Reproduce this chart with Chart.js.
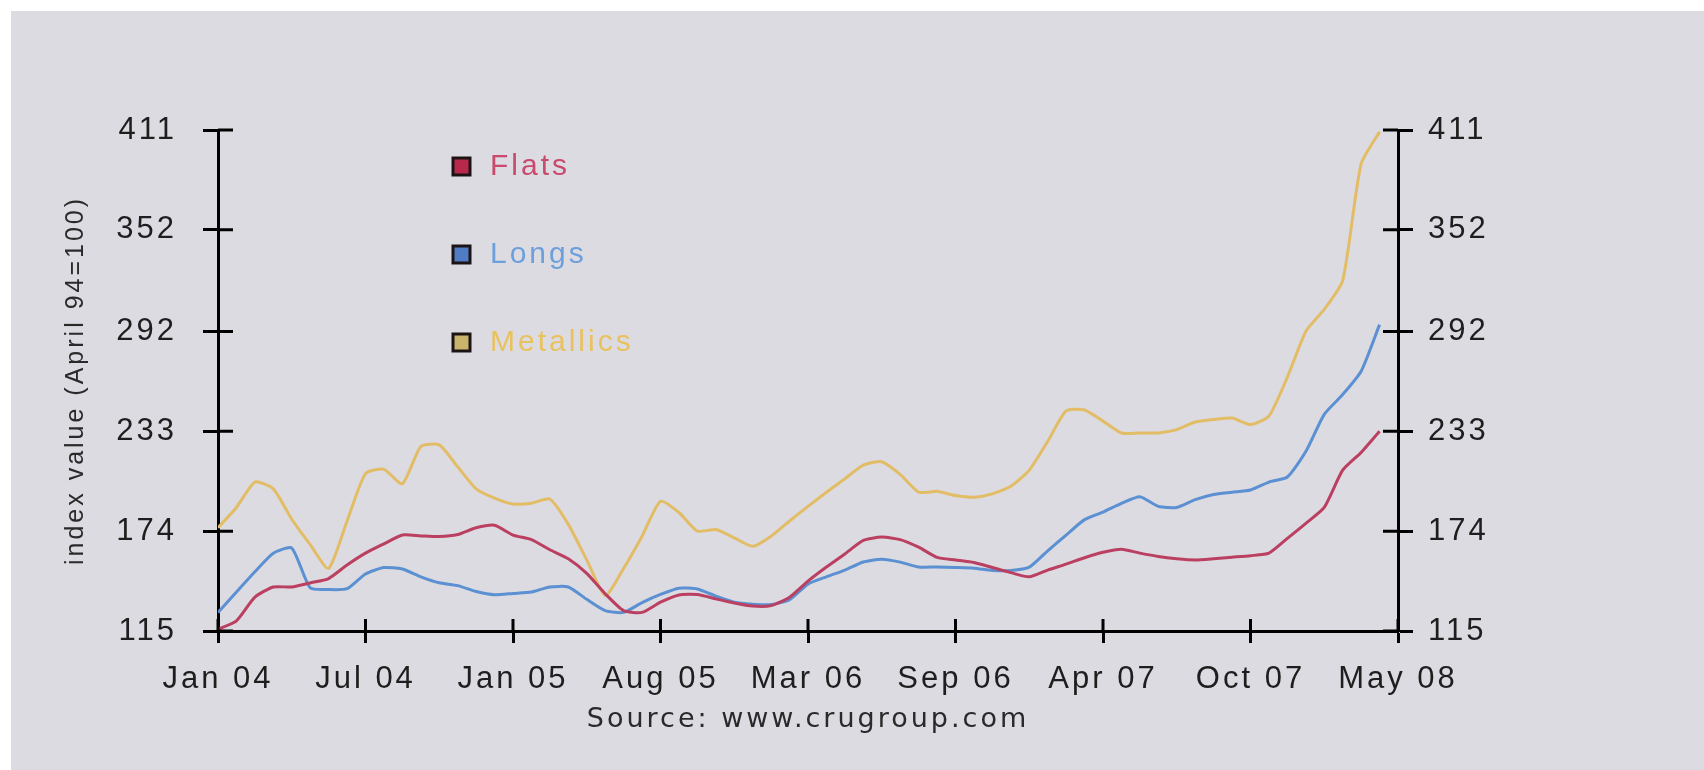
<!DOCTYPE html>
<html>
<head>
<meta charset="utf-8">
<script src="https://cdn.jsdelivr.net/npm/chart.js@4/dist/chart.umd.min.js"></script>
<style>
  html, body { margin: 0; padding: 0; background: #ffffff; }
  .frame { position: absolute; left: 11px; top: 11px; width: 1693px; height: 759px; background: #dcdbe1; }
</style>
</head>
<body>
<div class="frame"><canvas id="chart" width="1693" height="759"></canvas></div>
<script>
// tick labels (evenly spaced along the x axis, 8 readings between labels)
const tickLabels = ['Jan 04', 'Jul 04', 'Jan 05', 'Aug 05', 'Mar 06', 'Sep 06', 'Apr 07', 'Oct 07', 'May 08'];
const yTicks = [115, 174, 233, 292, 352, 411];
const stepsPerLabel = 8;

const seriesNames = ['Flats', 'Longs', 'Metallics'];

const flats = [116, 121, 135, 141, 141, 143.4, 146, 154, 161, 166.5, 171.7, 171.2, 170.8, 172, 176, 177.5,
  171.7, 169, 163, 157.7, 149, 137, 127, 126, 132, 136.3, 136.5, 134, 131.5, 129.7, 130, 135,
  144.5, 152.8, 160.5, 168.5, 170.5, 169, 164.5, 158.5, 157, 155.5, 152.5, 149.5, 147, 151, 154.5, 158.3,
  161.5, 163.3, 161, 159, 157.7, 157, 157.7, 158.6, 159.5, 161, 169.7, 178.6, 188, 210, 220.5, 233];

const longs = [126, 138, 150, 161, 164, 140.5, 139.5, 140, 148.7, 152.5, 151.6, 147, 143.5, 141.8, 138.3, 136.4,
  137.2, 138, 141, 141, 133.7, 127, 126, 131.8, 136.6, 140.3, 139.8, 135.6, 132, 130.8, 130.6, 133.5,
  142.7, 147, 151, 155.8, 157.4, 155.7, 152.8, 152.8, 152.5, 152.1, 150.8, 150.7, 152.7, 162.4, 171.7, 180.8,
  185.3, 190.4, 194.3, 188.6, 188, 192.6, 195.7, 197, 198.3, 203, 206, 221, 243, 254.7, 268.5, 296];

const metallics = [176, 188, 203, 199, 181, 166, 152, 180, 208, 210.5, 202, 224, 225, 212, 199, 193.5,
  190, 190.5, 193, 178, 157, 136, 152, 171, 191.6, 185, 174, 175, 170, 165, 171, 180,
  188.6, 197, 205, 213, 215, 207.5, 197, 197.5, 195, 194, 196, 200.5, 210, 227, 245, 245.6,
  239, 232, 232, 232, 234, 238.5, 240, 240.8, 237, 242, 265, 292, 305, 322, 391, 410];

const lineColors = ['#bb3f60', '#5b90d2', '#e2bd66'];
const legendFills = ['#b8284a', '#4f7cc4', '#c9b46c'];
const legendTextColors = ['#c94a6c', '#6c9fdc', '#e9c25e'];

const toPoints = arr => arr.map((v, i) => ({ x: i, y: v }));

// ticks that cross the axis lines (Chart.js only draws the outer half)
const innerTicks = {
  id: 'innerTicks',
  afterDatasetsDraw(chart) {
    const { ctx, chartArea, scales } = chart;
    ctx.save();
    ctx.strokeStyle = '#000';
    ctx.lineWidth = 3;
    ctx.beginPath();
    scales.x.ticks.forEach(t => {
      const px = scales.x.getPixelForValue(t.value);
      ctx.moveTo(px, chartArea.bottom);
      ctx.lineTo(px, chartArea.bottom - 12);
    });
    scales.y.ticks.forEach(t => {
      const py = scales.y.getPixelForValue(t.value);
      ctx.moveTo(chartArea.left, py);
      ctx.lineTo(chartArea.left + 15, py);
    });
    scales.y2.ticks.forEach(t => {
      const py = scales.y2.getPixelForValue(t.value);
      ctx.moveTo(chartArea.right, py);
      ctx.lineTo(chartArea.right - 15, py);
    });
    ctx.stroke();
    ctx.restore();
  }
};

// legend stacked inside the plot, as in the original
const stackedLegend = {
  id: 'stackedLegend',
  afterDraw(chart) {
    const { ctx, chartArea } = chart;
    ctx.save();
    ctx.font = '30px "Liberation Sans", Arial, sans-serif';
    ctx.textBaseline = 'middle';
    chart.data.datasets.forEach((ds, i) => {
      const x = chartArea.left + 235;
      const y = chartArea.top + 36 + i * 88;
      ctx.fillStyle = legendFills[i];
      ctx.fillRect(x, y - 8, 17, 17);
      ctx.strokeStyle = '#1c1414';
      ctx.lineWidth = 3;
      ctx.strokeRect(x, y - 8, 17, 17);
      ctx.fillStyle = legendTextColors[i];
      ctx.fillText(ds.label, x + 37, y + 1);
    });
    ctx.restore();
  }
};

// the original lettering is wide, loosen it a bit
const spacing = {
  id: 'spacing',
  beforeDraw(chart) { chart.ctx.letterSpacing = '3px'; }
};

const setYTicks = s => { s.ticks = yTicks.map(v => ({ value: v })); };
const tickFont = { family: '"Liberation Sans", Arial, sans-serif', size: 31 };
const textColor = '#1e1e1e';

const yCommon = {
  min: yTicks[0],
  max: yTicks[yTicks.length - 1],
  afterBuildTicks: setYTicks,
  grid: { drawOnChartArea: false, tickLength: 15, tickWidth: 3, tickColor: '#000' },
  border: { color: '#000', width: 3 }
};

new Chart(document.getElementById('chart'), {
  type: 'line',
  data: {
    datasets: [
      { label: seriesNames[0], data: toPoints(flats), borderColor: lineColors[0] },
      { label: seriesNames[1], data: toPoints(longs), borderColor: lineColors[1] },
      { label: seriesNames[2], data: toPoints(metallics), borderColor: lineColors[2] }
    ]
  },
  options: {
    responsive: false,
    animation: false,
    devicePixelRatio: 1,
    layout: { padding: { left: 0, right: 0, top: 119, bottom: 0 } },
    elements: {
      line: { borderWidth: 3, tension: 0.2 },
      point: { radius: 0 }
    },
    plugins: {
      legend: { display: false },
      tooltip: { enabled: false }
    },
    scales: {
      x: {
        type: 'linear',
        min: 0,
        max: (tickLabels.length - 1) * stepsPerLabel,
        afterBuildTicks: s => { s.ticks = tickLabels.map((_, i) => ({ value: i * stepsPerLabel })); },
        ticks: {
          autoSkip: false,
          maxRotation: 0,
          padding: 18,
          color: textColor,
          font: tickFont,
          callback: v => tickLabels[Math.round(v / stepsPerLabel)]
        },
        grid: { drawOnChartArea: false, tickLength: 12, tickWidth: 3, tickColor: '#000' },
        border: { color: '#000', width: 3 },
        title: {
          display: true,
          text: 'Source: www.crugroup.com',
          color: '#2a2a2a',
          font: { family: '"DejaVu Sans", sans-serif', size: 27 },
          padding: { top: 0, bottom: 34 }
        },
        afterFit: s => { s.height = 139; }
      },
      y: Object.assign({}, yCommon, {
        position: 'left',
        ticks: { padding: 26, color: textColor, font: tickFont },
        title: {
          display: true,
          text: 'index value (April 94=100)',
          color: '#2a2a2a',
          font: { family: '"Liberation Sans", Arial, sans-serif', size: 25 },
          padding: { top: 50, bottom: 0 }
        },
        afterFit: s => { s.width = 207; }
      }),
      y2: Object.assign({}, yCommon, {
        position: 'right',
        ticks: { padding: 15, color: textColor, font: tickFont },
        afterFit: s => { s.width = 306; }
      })
    }
  },
  plugins: [spacing, innerTicks, stackedLegend]
});
</script>
</body>
</html>
